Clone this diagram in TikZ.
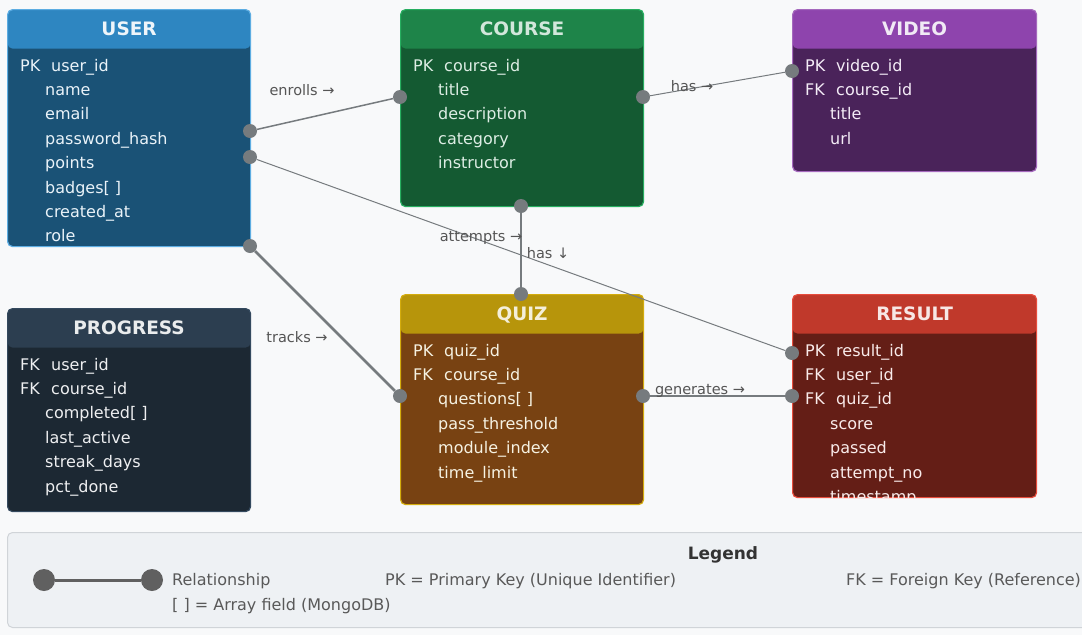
\documentclass[tikz,border=0pt]{standalone}
\usepackage{fontspec}
\setmainfont{DejaVu Sans}
\usepackage{tikz}
\usetikzlibrary{
    positioning, % For placing nodes relative to each other
    calc         % For coordinate calculations
}
% Palette of the entities
\definecolor{pageBg}{HTML}{F8F9FA}
\definecolor{userHead}{HTML}{2E86C1}
\definecolor{userBody}{HTML}{1A5276}
\definecolor{userEdge}{HTML}{5DADE2}
\definecolor{courseHead}{HTML}{1E8449}
\definecolor{courseBody}{HTML}{145A32}
\definecolor{courseEdge}{HTML}{27AE60}
\definecolor{videoHead}{HTML}{8E44AD}
\definecolor{videoBody}{HTML}{4A235A}
\definecolor{videoEdge}{HTML}{A569BD}
\definecolor{progressHead}{HTML}{2C3E50}
\definecolor{progressBody}{HTML}{1C2833}
\definecolor{progressEdge}{HTML}{34495E}
\definecolor{quizHead}{HTML}{B7950B}
\definecolor{quizBody}{HTML}{784212}
\definecolor{quizEdge}{HTML}{D4AC0D}
\definecolor{resultHead}{HTML}{C0392B}
\definecolor{resultBody}{HTML}{641E16}
\definecolor{resultEdge}{HTML}{E74C3C}
\definecolor{linkGray}{HTML}{767B7E}
\definecolor{labelGray}{HTML}{555555}
\definecolor{legendFill}{HTML}{EEF1F4}
\definecolor{legendEdge}{HTML}{D0D4D8}
\definecolor{legendDot}{HTML}{606060}
\tikzset{
    % Outline of an entity, the title band painted inside it
    entity_box/.style n args={3}{
        rectangle, rounded corners=5pt, line width=1.2pt, anchor=north west,
        inner sep=0pt, fill=#2, draw=#3,
        path picture={\fill[#1] (path picture bounding box.north west)
            rectangle ([yshift=-39pt]path picture bounding box.north east);}
    },
    % Entity title in the band
    entity_title/.style={font=\fontsize{18.5}{22}\selectfont\bfseries, anchor=base},
    % One row of fields
    field_text/.style={font=\fontsize{16}{19}\selectfont, anchor=base west, inner sep=0pt},
    % Connector ends and lines
    link_dot/.style={circle, fill=linkGray, inner sep=0pt, minimum size=14pt},
    link_line/.style={draw=linkGray, line width=#1},
    link_label/.style={font=\fontsize{14.5}{17}\selectfont, text=labelGray, anchor=base, inner sep=0pt},
    % Legend pieces
    legend_dot/.style={circle, fill=legendDot, inner sep=0pt, minimum size=22pt}
}
\begin{document}
\begin{tikzpicture}[x=1pt, y=-1pt]

\useasboundingbox[fill=pageBg] (0,0) rectangle (1082,635);

% --- ENTITY BOXES ---

\node[entity_box={userHead}{userBody}{userEdge}, minimum width=243pt, minimum height=237pt] (user) at (7,9) {};
\node[entity_box={courseHead}{courseBody}{courseEdge}, minimum width=243pt, minimum height=197pt] (course) at (400,9) {};
\node[entity_box={videoHead}{videoBody}{videoEdge}, minimum width=244pt, minimum height=162pt] (video) at (792,9) {};
\node[entity_box={progressHead}{progressBody}{progressEdge}, minimum width=243pt, minimum height=203pt] (progress) at (7,308) {};
\node[entity_box={quizHead}{quizBody}{quizEdge}, minimum width=243pt, minimum height=210pt] (quiz) at (400,294) {};
\node[entity_box={resultHead}{resultBody}{resultEdge}, minimum width=244pt, minimum height=203pt] (result) at (792,294) {};

% Titles
\node[entity_title, text=white!92!userHead] (user_title) at ([yshift=-26pt]user.north) {USER};
\node[entity_title, text=white!80!courseHead] (course_title) at ([yshift=-26pt]course.north) {COURSE};
\node[entity_title, text=white!88!videoHead] (video_title) at ([yshift=-26pt]video.north) {VIDEO};
\node[entity_title, text=white!90!progressHead] (progress_title) at ([yshift=-26pt]progress.north) {PROGRESS};
\node[entity_title, text=white!85!quizHead] (quiz_title) at ([yshift=-26pt]quiz.north) {QUIZ};
\node[entity_title, text=white!88!resultHead] (result_title) at ([yshift=-26pt]result.north) {RESULT};

% --- FIELDS ---

% USER
\begin{scope}[text=white!90!userHead]
\node[field_text] at (20,71) {PK};
\node[field_text] at (51,71) {user\_id};
\foreach \f [count=\i] in {name, email, password\_hash, points, {badges[ ]}, created\_at, role}
    \node[field_text] at (45,{71+24.4*\i}) {\f};
\end{scope}

% COURSE
\begin{scope}[text=white!85!courseHead]
\node[field_text] at (413,71) {PK};
\node[field_text] at (444,71) {course\_id};
\foreach \f [count=\i] in {title, description, category, instructor}
    \node[field_text] at (438,{71+24.4*\i}) {\f};
\end{scope}

% VIDEO
\begin{scope}[text=white!90!videoHead]
\foreach \k/\f [count=\i from 0] in {PK/video\_id, FK/course\_id} {
    \node[field_text] at (805,{71+24.4*\i}) {\k};
    \node[field_text] at (836,{71+24.4*\i}) {\f};
}
\foreach \f [count=\i from 2] in {title, url}
    \node[field_text] at (830,{71+24.4*\i}) {\f};
\end{scope}

% PROGRESS
\begin{scope}[text=white!92!progressHead]
\foreach \k/\f [count=\i from 0] in {FK/user\_id, FK/course\_id} {
    \node[field_text] at (20,{370+24.4*\i}) {\k};
    \node[field_text] at (51,{370+24.4*\i}) {\f};
}
\foreach \f [count=\i from 2] in {{completed[ ]}, last\_active, streak\_days, pct\_done}
    \node[field_text] at (45,{370+24.4*\i}) {\f};
\end{scope}

% QUIZ
\begin{scope}[text=white!88!quizHead]
\foreach \k/\f [count=\i from 0] in {PK/quiz\_id, FK/course\_id} {
    \node[field_text] at (413,{356+24.4*\i}) {\k};
    \node[field_text] at (444,{356+24.4*\i}) {\f};
}
\foreach \f [count=\i from 2] in {{questions[ ]}, pass\_threshold, module\_index, time\_limit}
    \node[field_text] at (438,{356+24.4*\i}) {\f};
\end{scope}

% RESULT (last row cut by the box)
\begin{scope}[text=white!90!resultHead]
\clip (result.north west) rectangle ([yshift=0.6pt]result.south east);
\foreach \k/\f [count=\i from 0] in {PK/result\_id, FK/user\_id, FK/quiz\_id} {
    \node[field_text] at (805,{356+24.4*\i}) {\k};
    \node[field_text] at (836,{356+24.4*\i}) {\f};
}
\foreach \f [count=\i from 3] in {score, passed, attempt\_no, timestamp}
    \node[field_text] at (830,{356+24.4*\i}) {\f};
\end{scope}

% --- CONNECTORS ---

\node[link_dot] (user_enrolls) at (250,131) {};
\node[link_dot] (user_attempts) at (250,157) {};
\node[link_dot] (user_tracks) at (250,246) {};
\node[link_dot] (course_enrolls) at (400,97) {};
\node[link_dot] (course_has) at (643,97) {};
\node[link_dot] (course_quiz) at (521,206) {};
\node[link_dot] (video_has) at (792,71) {};
\node[link_dot] (quiz_course) at (521,294) {};
\node[link_dot] (quiz_tracks) at (400,396) {};
\node[link_dot] (quiz_generates) at (643,396) {};
\node[link_dot] (result_attempts) at (792,353) {};
\node[link_dot] (result_generates) at (792,396) {};

\draw[link_line=1.5pt] (user_enrolls) -- (course_enrolls);
\draw[link_line=1pt] (course_has) -- (video_has);
\draw[link_line=1pt] (user_attempts) -- (result_attempts);
\draw[link_line=2.5pt] (course_quiz) -- (quiz_course);
\draw[link_line=2.5pt] (user_tracks) -- (quiz_tracks);
\draw[link_line=2.5pt] (quiz_generates) -- (result_generates);

\node[link_label] (enrolls_label) at (302,95) {enrolls →};
\node[link_label] (has_video_label) at (692,91) {has →};
\node[link_label] (attempts_label) at (481,241) {attempts →};
\node[link_label] (has_quiz_label) at (548,258) {has ↓};
\node[link_label] (tracks_label) at (297,342) {tracks →};
\node[link_label] (generates_label) at (700,394) {generates →};

% --- LEGEND ---

\node[rectangle, rounded corners=5pt, fill=legendFill, draw=legendEdge, line width=1pt,
      anchor=north west, minimum width=1090pt, minimum height=95pt] (legend) at (7,532) {};
\node[font=\fontsize{17}{20}\selectfont\bfseries, text=black!80, anchor=base] (legend_title) at (723,559) {Legend};
\node[legend_dot] (key_from) at (44,580) {};
\node[legend_dot] (key_to) at (152,580) {};
\draw[draw=legendDot, line width=3pt] (key_from) -- (key_to);
\begin{scope}[text=black!65]
\node[field_text] (key_rel) at (172,585) {Relationship};
\node[field_text] (key_array) at (172,610) {[ ] = Array field (MongoDB)};
\node[field_text] (key_pk) at (385,585) {PK = Primary Key (Unique Identifier)};
\node[field_text] (key_fk) at (846,585) {FK = Foreign Key (Reference)};
\end{scope}

\end{tikzpicture}
\end{document}
